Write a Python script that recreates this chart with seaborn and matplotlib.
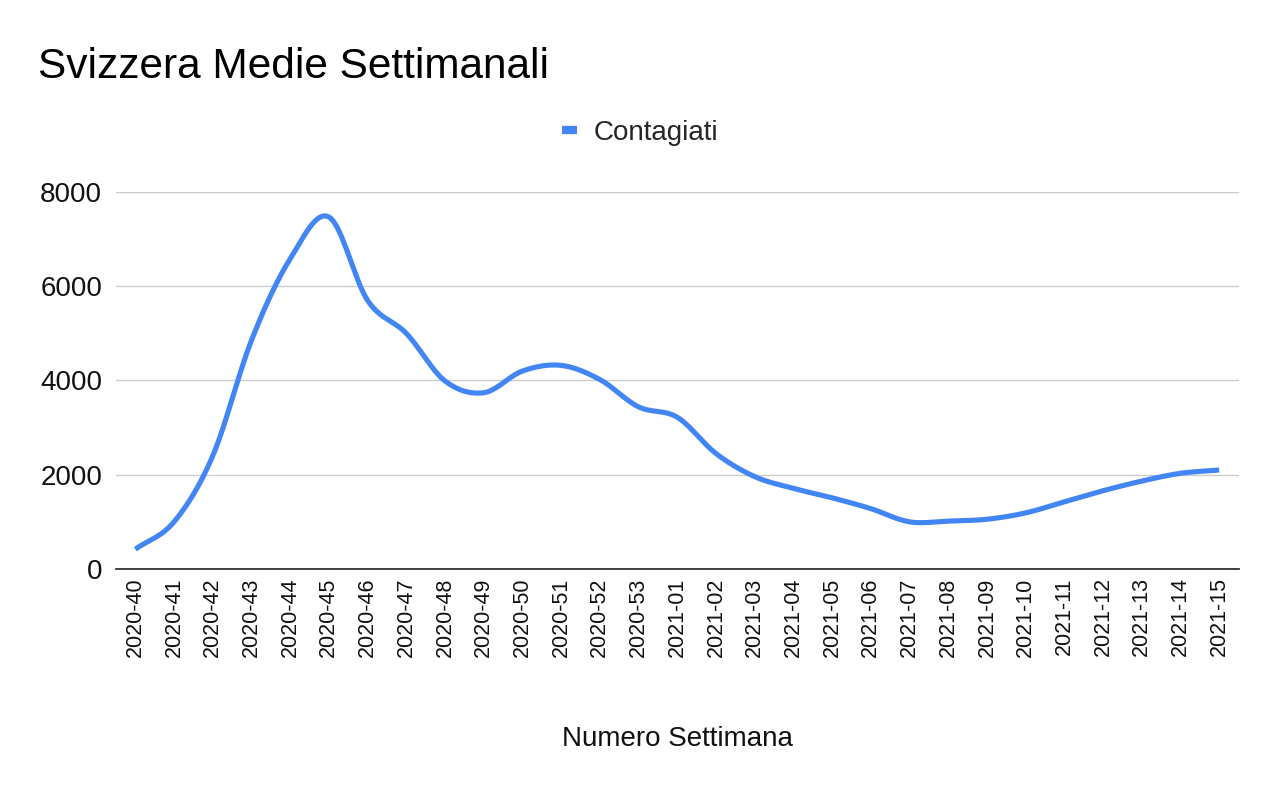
import numpy as np
import pandas as pd
import seaborn as sns
import matplotlib
matplotlib.use("Agg")
import matplotlib.pyplot as plt

# settimane e medie settimanali
settimane = ["2020-40", "2020-41", "2020-42", "2020-43", "2020-44", "2020-45", "2020-46",
             "2020-47", "2020-48", "2020-49", "2020-50", "2020-51", "2020-52", "2020-53",
             "2021-01", "2021-02", "2021-03", "2021-04", "2021-05", "2021-06", "2021-07",
             "2021-08", "2021-09", "2021-10", "2021-11", "2021-12", "2021-13", "2021-14",
             "2021-15"]
contagiati = [420, 1000, 2400, 4850, 6580, 7470, 5700,
              5000, 3990, 3740, 4200, 4320, 4020, 3440,
              3220, 2450, 1960, 1710, 1510, 1280, 1000,
              1015, 1055, 1190, 1425, 1660, 1865, 2030,
              2100]

blu = "#4285F4"

sns.set_theme(style="white")
plt.rcParams['font.family'] = ['Liberation Sans', 'DejaVu Sans']

df = pd.DataFrame({"settimana": settimane, "contagiati": contagiati})
df["pos"] = np.arange(len(df))


# linea "smooth" come nei fogli google: catmull-rom tra i punti
def smooth(x, y, n=20):
    x = np.asarray(x, float)
    y = np.asarray(y, float)
    px = np.concatenate([[2 * x[0] - x[1]], x, [2 * x[-1] - x[-2]]])
    py = np.concatenate([[2 * y[0] - y[1]], y, [2 * y[-1] - y[-2]]])
    xs, ys = [], []
    t = np.linspace(0, 1, n, endpoint=False)
    for i in range(1, len(px) - 2):
        for p, out in ((px, xs), (py, ys)):
            p0, p1, p2, p3 = p[i - 1], p[i], p[i + 1], p[i + 2]
            out.append(0.5 * ((2 * p1) + (-p0 + p2) * t + (2 * p0 - 5 * p1 + 4 * p2 - p3) * t ** 2
                              + (-p0 + 3 * p1 - 3 * p2 + p3) * t ** 3))
    xs.append([x[-1]])
    ys.append([y[-1]])
    return np.concatenate(xs), np.concatenate(ys)


sx, sy = smooth(df["pos"], df["contagiati"])

fig = plt.figure(figsize=(12.8, 7.91), dpi=100)
ax = fig.add_axes([0.0906, 0.2807, 0.877, 0.4766])

sns.lineplot(x=sx, y=sy, ax=ax, color=blu, linewidth=3.7, label="Contagiati",
             solid_capstyle="butt")

ax.set_xlim(-0.5, len(settimane) - 0.5)
ax.set_ylim(0, 8000)
ax.set_yticks([0, 2000, 4000, 6000, 8000])
ax.set_xticks(df["pos"])
ax.set_xticklabels(settimane, rotation=90, fontsize=15.5, color="#111111")
ax.tick_params(axis="y", labelsize=20, colors="#111111", length=0, pad=10)
ax.tick_params(axis="x", length=0, pad=6)
ax.grid(axis="y", color="#cccccc", linewidth=1)
ax.set_axisbelow(True)
for s in ["top", "right", "left"]:
    ax.spines[s].set_visible(False)
ax.spines["bottom"].set_color("#333333")
ax.spines["bottom"].set_linewidth(1.3)

ax.set_xlabel("Numero Settimana", fontsize=20, color="#111111", labelpad=50)
ax.set_ylabel("")

ax.get_legend().remove()
fig.legend(handles=ax.get_lines()[:1], labels=["Contagiati"], loc="center",
           bbox_to_anchor=(0.5, 0.832), frameon=False, fontsize=20,
           handlelength=0.55, handletextpad=0.6)
for h in fig.legends[0].get_lines():
    h.set_linewidth(6)

fig.text(0.03, 0.915, "Svizzera Medie Settimanali", fontsize=30.5, color="#000000",
         ha="left", va="center")

fig.savefig("out.png", dpi=100, facecolor="white")
